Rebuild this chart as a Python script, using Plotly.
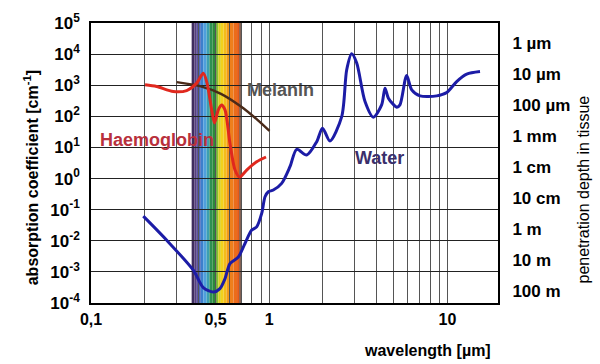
import plotly.graph_objects as go

# ---------------- data ----------------
water_wl = [0.1965, 0.266, 0.375, 0.4266, 0.4855, 0.529, 0.565, 0.602, 0.6705, 0.731,
            0.797, 0.85, 0.907, 0.947, 0.988, 1.054, 1.174, 1.307, 1.426, 1.622,
            1.846, 1.99, 2.19, 2.55, 2.72, 2.90, 3.095, 3.445, 3.835, 4.27,
            4.46, 4.66, 5.19, 5.41, 5.90, 6.30, 7.01, 8.70, 9.9, 11.26, 12.82, 15.22]
water_abs = [0.062, 0.0104, 0.00113, 3.1e-4, 2.25e-4, 2.9e-4, 6.1e-4, 1.85e-3, 3.0e-3, 8.2e-3,
             0.022, 0.028, 0.0757, 0.26, 0.376, 0.427, 0.70, 2.4, 8.7, 5.7,
             15.3, 41.4, 16.1, 98, 3130, 10260, 5150, 298, 93.7, 233,
             805, 384, 197, 233, 2050, 710, 455, 455, 581, 1314, 2276, 2760]

hb_wl = [0.201, 0.2336, 0.2895, 0.344, 0.3917, 0.4266, 0.4474, 0.4755, 0.493, 0.5178,
         0.5397, 0.5647, 0.602, 0.6427, 0.681, 0.747, 0.85, 0.959]
hb_abs = [1030, 906, 626, 674, 1167, 2414, 1193, 161, 61.4, 161,
          233, 161, 13.6, 1.88, 1.12, 1.88, 3.48, 4.93]

mel_wl = [0.3026, 0.4088, 0.536, 0.694, 0.865, 1.003]
mel_abs = [1257, 934, 528, 206, 74, 33.9]

spec_edges = [0.367, 0.38, 0.392, 0.403, 0.413, 0.427, 0.445, 0.462, 0.48, 0.498,
              0.508, 0.518, 0.535, 0.555, 0.577, 0.602, 0.63, 0.66, 0.68, 0.692]
spec_colors = ["#3f2d5e", "#55407e", "#5b52a4", "#4d66b8", "#3d7fcc", "#4f9fdc", "#3c9fb0",
               "#2f8f52", "#2a8a3a", "#4f9e32", "#8cbc2c", "#d6cf22", "#f2d21c", "#f4bc1a",
               "#f19a1a", "#ee7f1c", "#ec6c1a", "#e35a18", "#5a2e1c"]

x_tickvals = [0.1, 0.5, 1, 10]
x_ticktext = ["0,1", "0,5", "1", "10"]

y_exponents = [5, 4, 3, 2, 1, 0, -1, -2, -3, -4]
depth_labels = ["1 µm", "10 µm", "100 µm", "1 mm", "1 cm", "10 cm", "1 m", "10 m", "100 m"]
depth_exponents = [4, 3, 2, 1, 0, -1, -2, -3, -4]

FONT = "Liberation Sans, Arial, sans-serif"
LABEL_SHIFT = 0.37

fig = go.Figure()

fig.add_trace(go.Scatter(x=mel_wl, y=mel_abs, mode="lines",
                         line=dict(color="#4a2a18", width=2.5, shape="spline", smoothing=0.8),
                         showlegend=False, hoverinfo="skip"))
fig.add_trace(go.Scatter(x=hb_wl, y=hb_abs, mode="lines",
                         line=dict(color="#e0281e", width=3, shape="spline", smoothing=0.8),
                         showlegend=False, hoverinfo="skip"))
fig.add_trace(go.Scatter(x=water_wl, y=water_abs, mode="lines",
                         line=dict(color="#1c1ca6", width=3, shape="spline", smoothing=0.8),
                         showlegend=False, hoverinfo="skip"))
# invisible trace to anchor the right-hand axis
fig.add_trace(go.Scatter(x=[1], y=[1], yaxis="y2", mode="markers", marker=dict(opacity=0),
                         showlegend=False, hoverinfo="skip"))

for i, c in enumerate(spec_colors):
    fig.add_shape(type="rect", xref="x", yref="paper", x0=spec_edges[i], x1=spec_edges[i + 1],
                  y0=0, y1=1, fillcolor=c, line=dict(width=0), layer="below")

fig.update_layout(
    width=600, height=364,
    margin=dict(l=91, r=102, t=23, b=61),
    paper_bgcolor="white", plot_bgcolor="white",
    font=dict(family=FONT, color="black"),
    xaxis=dict(type="log", range=[-1, 1.2833], tickvals=x_tickvals, ticktext=x_ticktext,
               showgrid=True, gridcolor="#555555", gridwidth=1,
               minor=dict(dtick="D1", showgrid=True, gridcolor="#555555", gridwidth=1,
                          ticks=""),
               showline=True, mirror=True, linecolor="black", linewidth=1.5,
               ticks="outside", ticklen=1, tickcolor="rgba(0,0,0,0)",
               tickfont=dict(size=16, weight="bold"), zeroline=False),
    yaxis=dict(type="log", range=[-4, 5], tickvals=[10 ** e for e in y_exponents],
               ticktext=[f"10<sup>{e}</sup>" for e in y_exponents],
               showgrid=True, gridcolor="#222222", gridwidth=1.3,
               showline=True, mirror=True, linecolor="black", linewidth=1.5,
               ticks="outside", ticklen=6, tickcolor="rgba(0,0,0,0)",
               tickfont=dict(size=17, weight="bold"), zeroline=False),
    yaxis2=dict(type="log", range=[-4, 5], overlaying="y", side="right",
                tickvals=[10 ** (e + LABEL_SHIFT) for e in depth_exponents],
                ticktext=depth_labels, showgrid=False, showline=False, zeroline=False,
                ticks="outside", ticklen=10, tickcolor="rgba(0,0,0,0)",
                tickfont=dict(size=17, weight="bold")),
)

fig.add_annotation(text="absorption coefficient [cm<sup>-1</sup>]", textangle=-90,
                   xref="paper", yref="paper", x=-0.147, y=0.446, showarrow=False,
                   xanchor="center", yanchor="middle",
                   font=dict(size=16, weight="bold", color="black"))
fig.add_annotation(text="penetration depth in tissue", textangle=-90,
                   xref="paper", yref="paper", x=1.21, y=0.407, showarrow=False,
                   xanchor="center", yanchor="middle",
                   font=dict(size=16, color="black"))
fig.add_annotation(text="wavelength [µm]", xref="paper", yref="paper", x=0.987, y=-0.17,
                   xanchor="right", yanchor="middle", showarrow=False,
                   font=dict(size=16, weight="bold", color="black"))
fig.add_annotation(text="Melanin", xref="x", yref="y", x=-0.136, y=2.85, xanchor="left",
                   showarrow=False, font=dict(size=18, weight="bold", color="#555555"))
fig.add_annotation(text="Haemoglobin", xref="x", yref="y", x=-0.9607, y=1.24, xanchor="left",
                   showarrow=False, font=dict(size=18, weight="bold", color="#b8303c"))
fig.add_annotation(text="Water", xref="x", yref="y", x=0.4698, y=0.66, xanchor="left",
                   showarrow=False, font=dict(size=18, weight="bold", color="#3a2f6b"))

fig.write_html("out.html", config={"displayModeBar": False},
               post_script="document.body.style.margin='0';document.body.style.overflow='hidden';")
